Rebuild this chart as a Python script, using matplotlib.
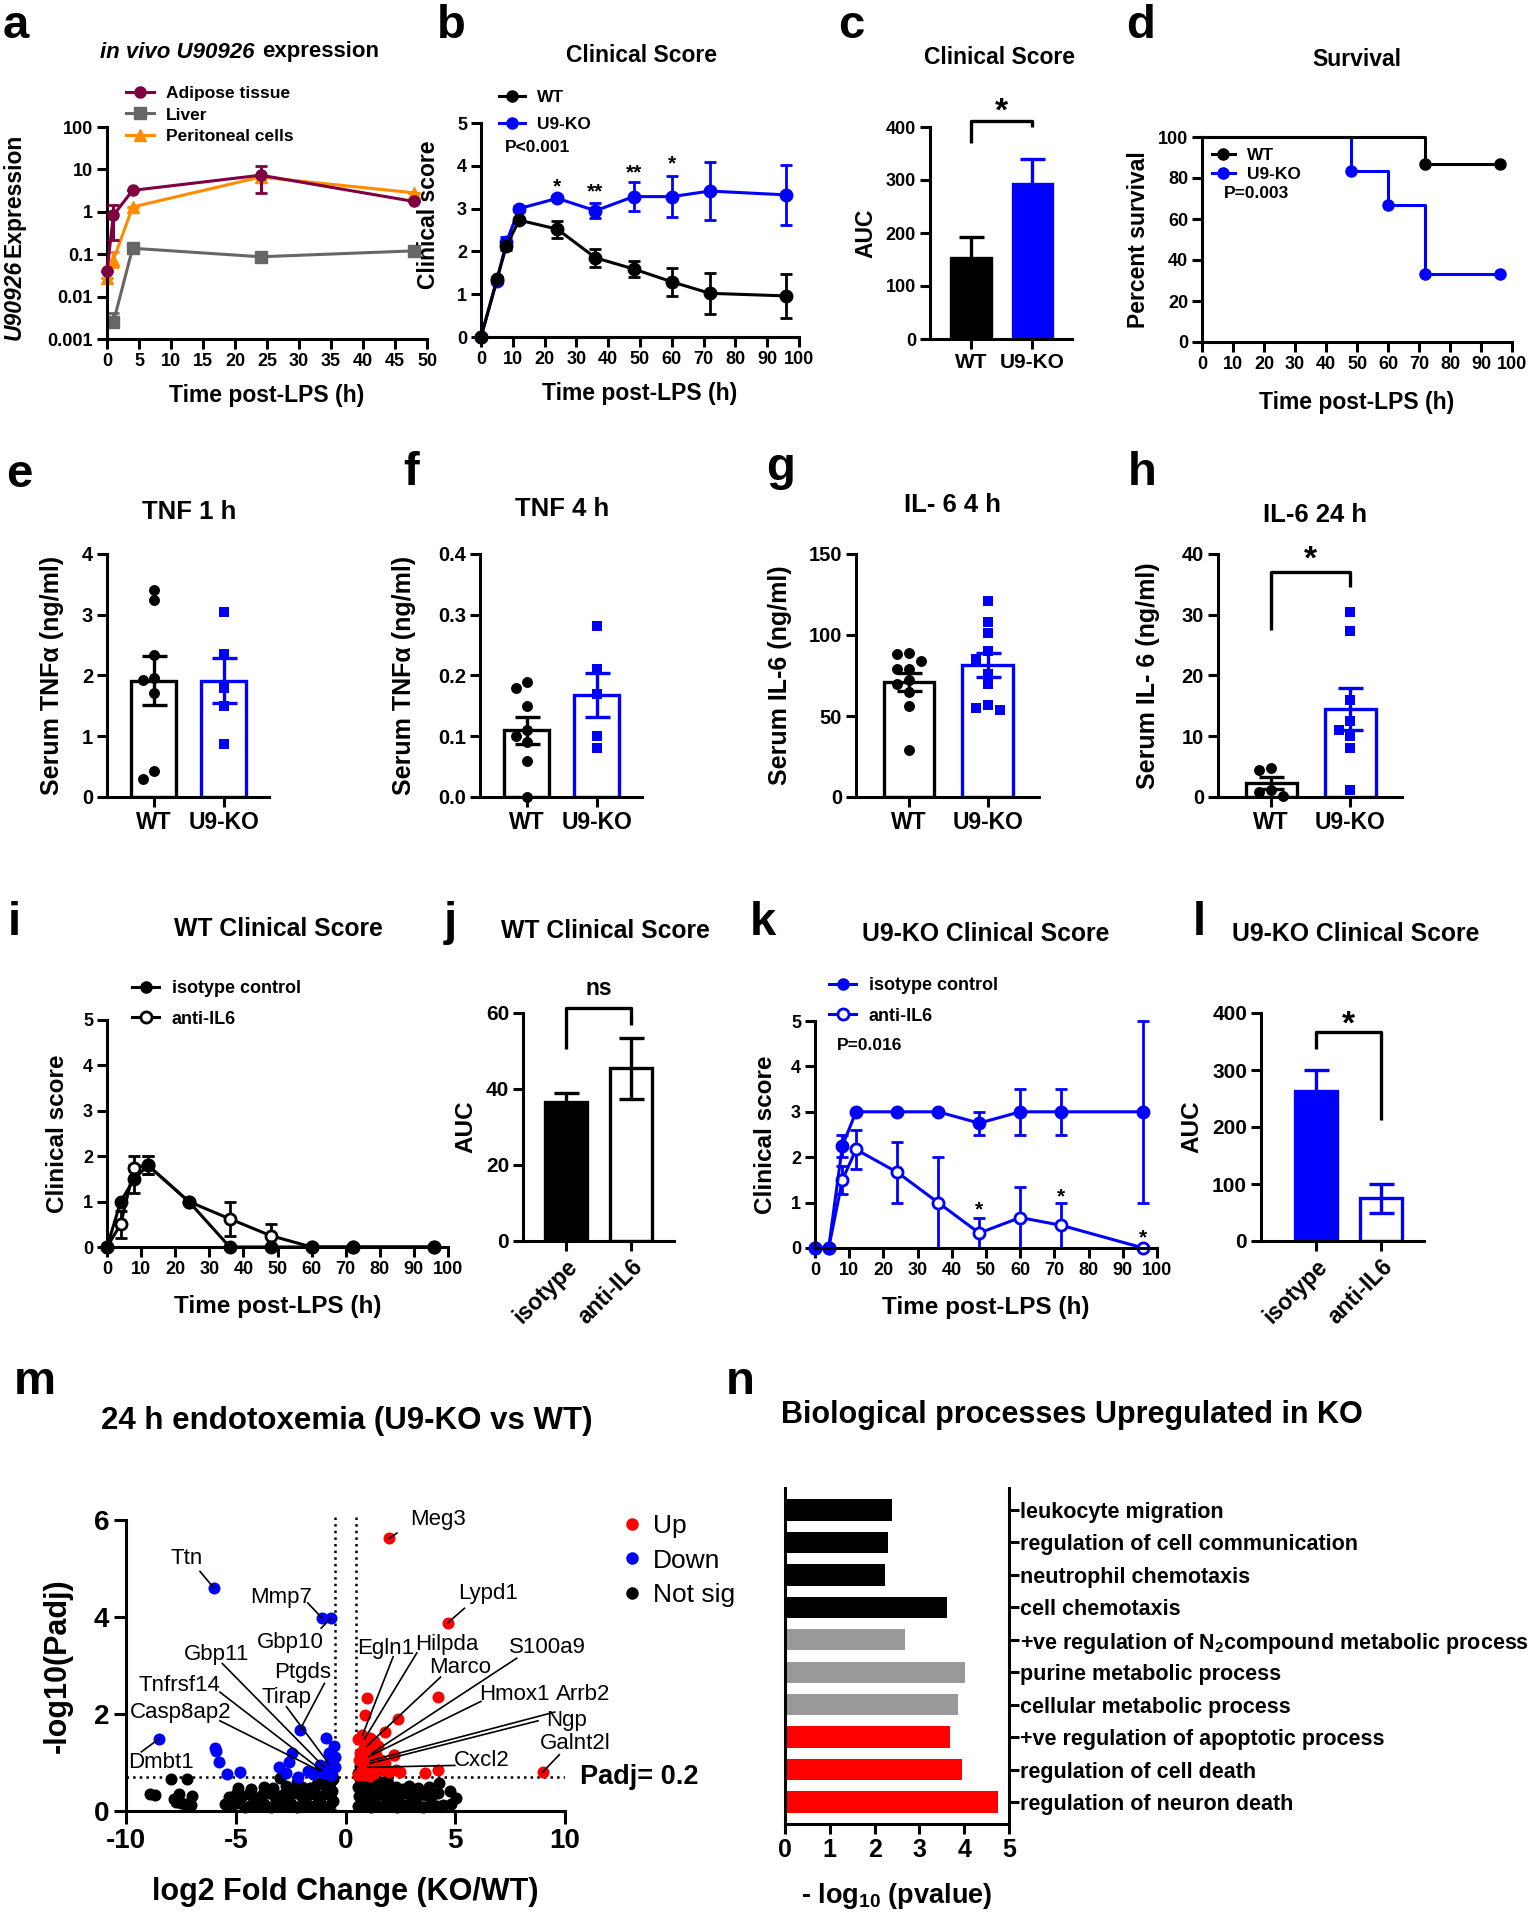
import numpy as np
import matplotlib
matplotlib.use("Agg")
from matplotlib import pyplot as plt
from matplotlib.lines import Line2D
from matplotlib.ticker import NullLocator

plt.rcParams['font.family'] = ['Liberation Sans', 'DejaVu Sans']
plt.rcParams['font.weight'] = 'bold'
plt.rcParams['axes.labelweight'] = 'bold'
plt.rcParams['axes.unicode_minus'] = False
plt.rcParams['mathtext.fontset'] = 'custom'
plt.rcParams['mathtext.rm'] = 'Liberation Sans:bold'
plt.rcParams['mathtext.bf'] = 'Liberation Sans:bold'

BLUE = '#0000ff'
MAROON = '#7f0040'
ORANGE = '#ff8c00'
GREY = '#666666'

# ---------------- data ----------------
# a: in vivo U90926 expression
a_time = [0, 1, 4, 24, 48]
a_adipose = [0.04, 0.83, 3.2, 7.3, 1.75]
a_adipose_lo = [0.04, 0.22, 3.2, 2.8, 1.75]
a_adipose_hi = [0.04, 1.43, 3.2, 12.0, 1.75]
a_liver_time = [1, 4, 24, 48]
a_liver = [0.0025, 0.138, 0.087, 0.12]
a_liver_lo = [0.0025, 0.138, 0.087, 0.12]
a_liver_hi = [0.004, 0.138, 0.087, 0.12]
a_perit = [0.028, 0.073, 1.3, 6.6, 2.8]
a_perit_lo = [0.028, 0.05, 1.3, 6.6, 2.8]
a_perit_hi = [0.028, 0.11, 1.3, 6.6, 2.8]

# b: clinical score
b_time = [0, 5, 8, 12, 24, 36, 48, 60, 72, 96]
b_wt = [0, 1.35, 2.13, 2.73, 2.52, 1.85, 1.59, 1.29, 1.02, 0.96]
b_wt_err = [0, 0.05, 0.1, 0.05, 0.2, 0.21, 0.18, 0.33, 0.48, 0.52]
b_ko = [0, 1.32, 2.22, 3.0, 3.24, 2.95, 3.28, 3.28, 3.41, 3.32]
b_ko_err = [0, 0.05, 0.12, 0.05, 0.05, 0.17, 0.33, 0.47, 0.68, 0.71]
b_star_time = [24, 36, 48, 60]
b_star_y = [3.5, 3.38, 3.84, 4.04]
b_star_text = ['*', '**', '**', '*']

# c: AUC
c_mean = [152, 292]
c_sem = [40, 47]

# d: survival
d_wt_t = [0, 72, 96]
d_wt_s = [100, 86.7, 86.7]
d_ko_t = [0, 48, 60, 72, 96]
d_ko_s = [100, 83.3, 66.7, 33.3, 33.3]

# e-h: serum cytokines (individual mice)
e_wt = [3.41, 3.25, 2.33, 1.96, 1.93, 1.71, 0.42, 0.29]
e_ko = [3.05, 2.35, 1.8, 1.5, 0.88]
f_wt = [0.18, 0.19, 0.15, 0.11, 0.10, 0.09, 0.06, 0.0]
f_ko = [0.281, 0.21, 0.17, 0.10, 0.08]
g_wt = [89, 88, 84, 79, 79, 72, 70, 65, 56, 29]
g_ko = [121, 108, 101, 90, 85, 76, 70, 57, 55, 54]
h_wt = [4.8, 4.5, 1.2, 0.8, 0.2]
h_ko = [30.4, 27.3, 16, 12.5, 11, 10, 8, 1.2]

# i: WT clinical score, isotype vs anti-IL6
i_time = [0, 4, 8, 12, 24, 36, 48, 60, 72, 96]
i_iso = [0, 1.0, 1.5, 1.8, 1.0, 0, 0, 0, 0, 0]
i_iso_err = [0, 0, 0.3, 0.2, 0, 0, 0, 0, 0, 0]
i_anti = [0, 0.5, 1.75, 1.8, 1.0, 0.62, 0.25, 0, 0, 0]
i_anti_err = [0, 0.3, 0.25, 0.2, 0, 0.38, 0.25, 0, 0, 0]

# j: WT AUC
j_mean = [36.5, 45.5]
j_sem = [2.5, 8]

# k: U9-KO clinical score
k_time = [0, 4, 8, 12, 24, 36, 48, 60, 72, 96]
k_iso = [0, 0, 2.25, 3, 3, 3, 2.75, 3, 3, 3]
k_iso_err = [0, 0, 0.25, 0, 0, 0, 0.25, 0.5, 0.5, 2.0]
k_anti = [0, 0, 1.5, 2.17, 1.67, 1.0, 0.33, 0.67, 0.5, 0]
k_anti_err = [0, 0, 0.3, 0.43, 0.67, 1.0, 0.33, 0.67, 0.5, 0]
k_star_time = [48, 72, 96]
k_star_y = [0.85, 1.13, 0.23]

# l: U9-KO AUC
l_mean = [263, 75]
l_sem = [37, 25]

# m: volcano, labelled genes
up_names = ['Meg3', 'Lypd1', 'Egln1', 'Hilpda', 'Marco', 'S100a9', 'Hmox1',
            'Arrb2', 'Ngp', 'Galnt2l', 'Cxcl2']
up_lfc = [1.98, 4.66, 0.77, 0.87, 0.98, 1.2, 1.05, 1.15, 1.1, 8.98, 1.0]
up_padj = [5.62, 3.88, 1.56, 1.49, 1.34, 1.19, 1.12, 1.04, 0.98, 0.80, 0.90]
down_names = ['Ttn', 'Mmp7', 'Gbp10', 'Dmbt1', 'Ptgds', 'Gbp11', 'Tnfrsf14',
              'Tirap', 'Casp8ap2']
down_lfc = [-6.0, -1.07, -0.64, -8.49, -2.08, -0.96, -1.07, -0.75, -1.18]
down_padj = [4.6, 3.98, 3.98, 1.49, 1.67, 0.90, 0.83, 0.97, 0.83]
# other significant genes
up_lfc_other = [0.98, 0.88, 4.23, 2.39, 1.8, 3.64, 4.23, 2.2, 0.55, 0.75, 0.9,
                1.1, 1.3, 1.5, 0.65, 0.85, 1.0, 1.2, 1.4, 0.6, 0.8, 1.0, 1.2,
                1.5, 1.7, 2.0, 2.3, 0.7, 0.9, 1.3, 1.6, 2.2, 1.8, 1.1, 0.55, 2.5]
up_padj_other = [2.34, 1.98, 2.35, 1.89, 1.62, 0.79, 0.85, 1.16, 1.48, 1.5,
                 1.45, 1.5, 1.45, 1.35, 1.2, 1.3, 1.1, 1.2, 1.15, 1.05, 0.95,
                 0.9, 0.95, 0.9, 0.85, 0.8, 0.85, 0.8, 0.75, 0.78, 1.05, 1.15,
                 1.0, 0.72, 0.75, 0.8]
down_lfc_other = [-5.94, -5.9, -5.78, -5.4, -4.81, -0.87, -0.53, -0.75, -0.49,
                  -2.43, -2.58, -3.02, -2.7, -2.15, -1.72, -1.5, -0.96, -0.64,
                  -0.49, -1.18, -0.6]
down_padj_other = [1.30, 1.23, 1.01, 0.77, 0.80, 1.5, 1.34, 1.19, 1.12, 1.19,
                   1.01, 0.9, 0.79, 0.71, 0.83, 0.77, 0.79, 0.75, 0.9, 0.94, 1.05]
ns_lfc = [-5.5, -5.2, -4.9, -4.6, -4.3, -4.0, -3.7, -3.4, -3.1, -2.8, -2.5, -2.2,
          -1.9, -1.6, -1.3, -1.0, -0.7, -0.55,
          -5.3, -5.0, -4.7, -4.4, -4.1, -3.8, -3.5, -3.2, -2.9, -2.6, -2.3, -2.0,
          -1.7, -1.4, -1.1, -0.8, -0.6,
          -4.9, -4.3, -3.7, -3.3, -2.7, -2.4, -2.0, -1.6, -1.3, -0.95, -0.7, -0.55,
          -3.0, -2.2, -1.0, -0.6, -0.75,
          -8.9, -8.7, -7.95, -7.8, -7.6, -7.2, -7.0, -7.3, -7.05, -7.5, -7.7,
          0.55, 0.85, 1.15, 1.45, 1.75, 2.05, 2.35, 2.65, 2.95, 3.25, 3.55, 3.85,
          4.15, 4.45, 4.8, 5.05,
          0.6, 0.9, 1.2, 1.5, 1.8, 2.1, 2.4, 2.7, 3.0, 3.3, 3.6, 3.9, 4.2, 4.75,
          0.55, 0.8, 1.1, 1.4, 1.7, 2.0, 2.3, 2.6, 2.9, 3.3, 3.8, 4.25,
          0.6, 0.75, 0.65, 0.9, 1.2, 1.5, 1.9, 0.55, 1.0]
ns_padj = [0.14, 0.10, 0.16, 0.09, 0.13, 0.11, 0.15, 0.08, 0.12, 0.10, 0.14, 0.09,
           0.13, 0.11, 0.15, 0.10, 0.12, 0.20,
           0.28, 0.35, 0.30, 0.36, 0.27, 0.33, 0.38, 0.29, 0.34, 0.31, 0.37, 0.28,
           0.33, 0.36, 0.30, 0.35, 0.42,
           0.48, 0.45, 0.50, 0.47, 0.52, 0.46, 0.50, 0.48, 0.55, 0.52, 0.58, 0.65,
           0.68, 0.60, 0.66, 0.75, 0.70,
           0.36, 0.33, 0.66, 0.25, 0.36, 0.67, 0.31, 0.15, 0.13, 0.16, 0.18,
           0.10, 0.14, 0.09, 0.13, 0.11, 0.15, 0.08, 0.12, 0.10, 0.14, 0.09, 0.13,
           0.11, 0.12, 0.15, 0.27,
           0.30, 0.35, 0.28, 0.36, 0.31, 0.34, 0.29, 0.37, 0.30, 0.35, 0.32, 0.28,
           0.38, 0.42,
           0.50, 0.55, 0.48, 0.52, 0.47, 0.53, 0.50, 0.46, 0.51, 0.48, 0.50, 0.58,
           0.70, 0.85, 0.92, 0.68, 0.65, 0.62, 0.64, 0.78, 0.75]

# n: GO terms
n_terms = ['leukocyte migration', 'regulation of cell communication',
           'neutrophil chemotaxis', 'cell chemotaxis',
           '+ve regulation of N$_2$compound metabolic process',
           'purine metabolic process', 'cellular metabolic process',
           '+ve regulation of apoptotic process', 'regulation of cell death',
           'regulation of neuron death']
n_values = [2.39, 2.30, 2.24, 3.61, 2.67, 4.02, 3.87, 3.69, 3.96, 4.76]
n_colors = ['black'] * 4 + ['#999999'] * 3 + ['#ff0000'] * 3

# ---------------- figure ----------------
W, H = 1540, 1920
fig = plt.figure(figsize=(W / 100, H / 100), dpi=100)


def add_ax(l, r, t, b, labelsize=13):
    ax = fig.add_axes([l / W, 1 - b / H, (r - l) / W, (b - t) / H])
    ax.spines['top'].set_visible(False)
    ax.spines['right'].set_visible(False)
    for s in ['left', 'bottom']:
        ax.spines[s].set_linewidth(2.2)
    ax.tick_params(width=2.2, length=7, labelsize=labelsize, pad=3)
    ax.set_facecolor('none')
    return ax


def ftext(x, y, s, **kw):
    return fig.text(x / W, 1 - y / H, s, **kw)


def fig_legend(ax, handles, labels, x, y, size, **kw):
    opts = dict(loc='upper left', bbox_to_anchor=(x / W, 1 - y / H),
                bbox_transform=fig.transFigure, frameon=False, fontsize=size,
                borderpad=0, borderaxespad=0, handletextpad=0.7)
    opts.update(kw)
    return ax.legend(handles, labels, **opts)


def swarm(vals, tol, step):
    vals = np.asarray(vals, dtype=float)
    offs = np.zeros(len(vals))
    placed = []
    cands = [0.0]
    for k in range(1, 6):
        cands += [-k * step, k * step]
    for i in np.argsort(vals)[::-1]:
        v = vals[i]
        for c in cands:
            if all(abs(v - pv) >= tol or abs(c - pc) >= step * 0.99
                   for pv, pc in placed):
                break
        offs[i] = c
        placed.append((v, c))
    return offs


def line_err(ax, x, y, err, color, open_marker=False, ms=8):
    ax.errorbar(x, y, yerr=err, color=color, lw=2.2, marker='o', ms=ms,
                mfc='white' if open_marker else color, mec=color, mew=2,
                capsize=4, capthick=2, elinewidth=2, clip_on=False)


def dot_bar(ax, groups, colors, markers, ymax):
    for i, (vals, c, m) in enumerate(zip(groups, colors, markers)):
        v = np.asarray(vals, dtype=float)
        mean = v.mean()
        sem = v.std(ddof=1) / np.sqrt(len(v))
        ax.bar(i, mean, width=0.64, facecolor='white', edgecolor=c,
               linewidth=2.4, zorder=1)
        offs = swarm(v, 0.04 * ymax, 0.15)
        ax.scatter(i + offs, v, marker=m, s=62 if m == 'o' else 52, color=c,
                   zorder=3, clip_on=False, linewidths=0)
        ax.errorbar(i, mean, yerr=sem, color=c, capsize=9, capthick=2.4,
                    elinewidth=2.4, zorder=4)
    ax.set_xlim(-0.67, 1.65)
    ax.set_ylim(0, ymax)
    ax.set_xticks([0, 1])
    ax.set_xticklabels(['WT', 'U9-KO'], fontsize=16.5)


def auc_bar(ax, means, sems, faces, edges):
    for i, (m, s, f, e) in enumerate(zip(means, sems, faces, edges)):
        ax.bar(i, m, width=0.64, facecolor=f, edgecolor=e, linewidth=2.4,
               zorder=1)
        ax.errorbar(i, m, yerr=s, color=e, capsize=9, capthick=2.4,
                    elinewidth=2.4, zorder=2)
    ax.set_xticks([0, 1])


def bracket(ax, ytop, y0, y1, label, ylab, size=24):
    ax.plot([0, 0, 1, 1], [y0, ytop, ytop, y1], color='k', lw=2.4,
            clip_on=False, solid_capstyle='butt')
    ax.text(0.5, ylab, label, ha='center', va='center', fontsize=size)


# panel letters
for letter, x, y in [('a', 3, 38), ('b', 437, 38), ('c', 838, 38),
                     ('d', 1126, 38), ('e', 6, 487), ('f', 403, 485),
                     ('g', 766, 480), ('h', 1128, 485), ('i', 8, 935),
                     ('j', 444, 935), ('k', 750, 935), ('l', 1193, 935),
                     ('m', 14, 1394), ('n', 726, 1394)]:
    ftext(x, y, letter, fontsize=34, va='baseline', ha='left')

# ---- a ----
ax = add_ax(107, 427, 127, 339)
ax.set_yscale('log')
ax.errorbar(a_time, a_adipose,
            yerr=[np.subtract(a_adipose, a_adipose_lo),
                  np.subtract(a_adipose_hi, a_adipose)],
            color=MAROON, marker='o', ms=8, lw=2.2, capsize=4, capthick=2,
            clip_on=False, zorder=3)
ax.errorbar(a_liver_time, a_liver,
            yerr=[np.subtract(a_liver, a_liver_lo),
                  np.subtract(a_liver_hi, a_liver)],
            color=GREY, marker='s', ms=8, lw=2.2, capsize=4, capthick=2,
            clip_on=False, zorder=2)
ax.errorbar(a_time, a_perit,
            yerr=[np.subtract(a_perit, a_perit_lo),
                  np.subtract(a_perit_hi, a_perit)],
            color=ORANGE, marker='^', ms=8, lw=2.2, capsize=4, capthick=2,
            clip_on=False, zorder=2)
ax.set_xlim(0, 50)
ax.set_ylim(0.001, 100)
ax.set_xticks(range(0, 51, 5))
ax.set_yticks([0.001, 0.01, 0.1, 1, 10, 100])
ax.set_yticklabels(['0.001', '0.01', '0.1', '1', '10', '100'])
ax.yaxis.set_minor_locator(NullLocator())
ax.set_xlabel('Time post-LPS (h)', fontsize=16.5, labelpad=10)
ftext(255, 52, 'in vivo U90926', fontsize=16, style='italic', ha='right',
      va='center')
ftext(262, 52, 'expression', fontsize=16, ha='left', va='center')
ftext(14, 340, 'U90926', fontsize=16.5, style='italic', rotation=90,
      ha='center', va='bottom')
ftext(14, 257, 'Expression', fontsize=16.5, rotation=90, ha='center',
      va='bottom')
hl = [Line2D([], [], color=MAROON, marker='o', ms=8, lw=2.2),
      Line2D([], [], color=GREY, marker='s', ms=8, lw=2.2),
      Line2D([], [], color=ORANGE, marker='^', ms=8, lw=2.2)]
fig_legend(ax, hl, ['Adipose tissue', 'Liver', 'Peritoneal cells'], 126, 86,
           12.5, handlelength=1.6, labelspacing=0.36)

# ---- b ----
ax = add_ax(481, 799, 123, 337)
line_err(ax, b_time, b_ko, b_ko_err, BLUE)
line_err(ax, b_time, b_wt, b_wt_err, 'black')
for t, y, s in zip(b_star_time, b_star_y, b_star_text):
    ax.text(t, y, s, ha='center', va='center', fontsize=15)
ax.set_xlim(0, 100)
ax.set_ylim(0, 5)
ax.set_xticks(range(0, 101, 10))
ax.set_yticks(range(0, 6))
ax.set_xlabel('Time post-LPS (h)', fontsize=16.5, labelpad=10)
ax.set_ylabel('Clinical score', fontsize=16.5)
ax.yaxis.set_label_coords(-0.13, 0.57)
ftext(641, 55, 'Clinical Score', fontsize=16.5, ha='center', va='center')
hl = [Line2D([], [], color='k', marker='o', ms=8, lw=2.2),
      Line2D([], [], color=BLUE, marker='o', ms=8, lw=2.2)]
fig_legend(ax, hl, ['WT', 'U9-KO'], 499, 90, 12.5, handlelength=1.5,
           labelspacing=0.66)
ftext(505, 148, 'P<0.001', fontsize=12.5, ha='left', va='center')

# ---- c ----
ax = add_ax(930, 1072, 127, 339)
auc_bar(ax, c_mean, c_sem, ['black', BLUE], ['black', BLUE])
ax.set_xlim(-0.67, 1.65)
ax.set_ylim(0, 400)
ax.set_yticks(range(0, 401, 100))
ax.set_xticklabels(['WT', 'U9-KO'], fontsize=15)
ax.set_ylabel('AUC', fontsize=16.5, labelpad=6)
bracket(ax, 412, 370, 400, '*', 428)
ftext(1000, 58, 'Clinical Score', fontsize=16.5, ha='center', va='center')

# ---- d ----
ax = add_ax(1202, 1512, 137, 342)
ax.plot(d_ko_t, d_ko_s, drawstyle='steps-post', color=BLUE, lw=2.2,
        clip_on=False)
ax.plot(d_ko_t[1:], d_ko_s[1:], 'o', color=BLUE, ms=8, clip_on=False)
ax.plot(d_wt_t, d_wt_s, drawstyle='steps-post', color='black', lw=2.2,
        clip_on=False)
ax.plot(d_wt_t[1:], d_wt_s[1:], 'o', color='black', ms=8, clip_on=False)
ax.set_xlim(0, 100)
ax.set_ylim(0, 100)
ax.set_xticks(range(0, 101, 10))
ax.set_yticks(range(0, 101, 20))
ax.set_xlabel('Time post-LPS (h)', fontsize=16.5, labelpad=13)
ax.set_ylabel('Percent survival', fontsize=16.5, labelpad=6)
ftext(1357, 59, 'Survival', fontsize=16.5, ha='center', va='center')
hl = [Line2D([], [], color='k', marker='o', ms=8, lw=2.2),
      Line2D([], [], color=BLUE, marker='o', ms=8, lw=2.2)]
fig_legend(ax, hl, ['WT', 'U9-KO'], 1212, 148, 12.5, handlelength=1.3,
           labelspacing=0.2)
ftext(1224, 193, 'P=0.003', fontsize=12.5, ha='left', va='center')

# ---- e-h ----
panels = [
    (107, 269, e_wt, e_ko, 4, [0, 1, 2, 3, 4], None,
     'Serum TNF\u03b1 (ng/ml)', 13, 'TNF 1 h', 189, 512),
    (480, 642, f_wt, f_ko, 0.4, [0.0, 0.1, 0.2, 0.3, 0.4], '%.1f',
     'Serum TNF\u03b1 (ng/ml)', 16, 'TNF 4 h', 562, 509),
    (856, 1039, g_wt, g_ko, 150, [0, 50, 100, 150], None,
     'Serum IL-6 (ng/ml)', 12, 'IL- 6 4 h', 953, 505),
    (1218, 1402, h_wt, h_ko, 40, [0, 10, 20, 30, 40], None,
     'Serum IL- 6 (ng/ml)', 16, 'IL-6 24 h', 1315, 515),
]
for l, r, wt, ko, ymax, yt, fmt, ylab, lpad, title, tx, ty in panels:
    ax = add_ax(l, r, 554, 797, labelsize=14.5)
    dot_bar(ax, [wt, ko], ['black', BLUE], ['o', 's'], ymax)
    ax.set_yticks(yt)
    if fmt:
        ax.set_yticklabels([fmt % v for v in yt])
    ax.set_ylabel(ylab, fontsize=18, labelpad=lpad)
    ftext(tx, ty, title, fontsize=18.5, ha='center', va='center')
    if title == 'IL-6 24 h':
        bracket(ax, 37, 27.5, 34.5, '*', 39.0)

# ---- i ----
ax = add_ax(107, 448, 1020, 1247)
line_err(ax, i_time, i_anti, i_anti_err, 'black', open_marker=True)
line_err(ax, i_time, i_iso, i_iso_err, 'black')
ax.set_xlim(0, 100)
ax.set_ylim(0, 5)
ax.set_xticks(range(0, 101, 10))
ax.set_yticks(range(0, 6))
ax.set_xlabel('Time post-LPS (h)', fontsize=17.5, labelpad=12)
ax.set_ylabel('Clinical score', fontsize=17.5, labelpad=10)
ftext(278, 929, 'WT Clinical Score', fontsize=17.8, ha='center', va='center')
hl = [Line2D([], [], color='k', marker='o', ms=8, lw=2.2),
      Line2D([], [], color='k', marker='o', ms=8, lw=2.2, mfc='white', mew=2)]
fig_legend(ax, hl, ['isotype control', 'anti-IL6'], 132, 980, 13,
           handlelength=1.5, labelspacing=0.75)

# ---- j ----
ax = add_ax(523, 674, 1013, 1241, labelsize=15)
auc_bar(ax, j_mean, j_sem, ['black', 'white'], ['black', 'black'])
ax.set_xlim(-0.66, 1.66)
ax.set_ylim(0, 60)
ax.set_yticks([0, 20, 40, 60])
ax.set_xticklabels(['isotype', 'anti-IL6'], fontsize=16.5, rotation=45,
                   ha='right', rotation_mode='anchor')
ax.set_ylabel('AUC', fontsize=17.5, labelpad=6)
bracket(ax, 61.3, 50.5, 56.8, 'ns', 66.5, size=16.5)
ftext(605, 931, 'WT Clinical Score', fontsize=17.8, ha='center', va='center')

# ---- k ----
ax = add_ax(815, 1157, 1021, 1248)
line_err(ax, k_time, k_anti, k_anti_err, BLUE, open_marker=True)
line_err(ax, k_time, k_iso, k_iso_err, BLUE)
for t, y in zip(k_star_time, k_star_y):
    ax.text(t, y, '*', ha='center', va='center', fontsize=15)
ax.set_xlim(0, 100)
ax.set_ylim(0, 5)
ax.set_xticks(range(0, 101, 10))
ax.set_yticks(range(0, 6))
ax.set_xlabel('Time post-LPS (h)', fontsize=17.5, labelpad=12)
ax.set_ylabel('Clinical score', fontsize=17.5, labelpad=10)
ftext(986, 934, 'U9-KO Clinical Score', fontsize=17.8, ha='center',
      va='center')
hl = [Line2D([], [], color=BLUE, marker='o', ms=8, lw=2.2),
      Line2D([], [], color=BLUE, marker='o', ms=8, lw=2.2, mfc='white',
             mew=2)]
fig_legend(ax, hl, ['isotype control', 'anti-IL6'], 829, 977, 13,
           handlelength=1.5, labelspacing=0.75)
ftext(837, 1045, 'P=0.016', fontsize=12.5, ha='left', va='center')

# ---- l ----
ax = add_ax(1261, 1424, 1013, 1241, labelsize=15)
auc_bar(ax, l_mean, l_sem, [BLUE, 'white'], [BLUE, BLUE])
ax.set_xlim(-0.85, 1.66)
ax.set_ylim(0, 400)
ax.set_yticks(range(0, 401, 100))
ax.set_xticklabels(['isotype', 'anti-IL6'], fontsize=16.5, rotation=45,
                   ha='right', rotation_mode='anchor')
ax.set_ylabel('AUC', fontsize=17.5, labelpad=6)
bracket(ax, 366, 337, 212, '*', 379)
ftext(1356, 934, 'U9-KO Clinical Score', fontsize=17.8, ha='center',
      va='center')

# ---- m ----
ax = add_ax(126, 565, 1520, 1811, labelsize=20)
ax.plot([-0.5, -0.5], [0, 6.06], ls=':', color='k', lw=1.8, clip_on=False)
ax.plot([0.5, 0.5], [0, 6.06], ls=':', color='k', lw=1.8, clip_on=False)
ax.plot([-10, 10], [0.699, 0.699], ls=':', color='k', lw=1.8)
ax.scatter(ns_lfc, ns_padj, s=75, color='black', linewidths=0, clip_on=False,
           zorder=2)
ax.scatter(down_lfc_other + down_lfc, down_padj_other + down_padj, s=75,
           color=BLUE, linewidths=0, zorder=3)
ax.scatter(up_lfc_other + up_lfc, up_padj_other + up_padj, s=75,
           color='#ff0000', linewidths=0, zorder=3)
label_layout = {
    'Meg3': (4.23, 6.02, 2.34, 5.73), 'Ttn': (-7.23, 5.2, -6.63, 4.94),
    'Mmp7': (-2.95, 4.41, -1.72, 4.29), 'Gbp10': (-2.52, 3.48, -1.11, 3.77),
    'Lypd1': (6.5, 4.49, 5.42, 4.18), 'Gbp11': (-5.89, 3.22, -5.61, 3.04),
    'Ptgds': (-1.94, 2.85, -0.96, 2.63),
    'Tnfrsf14': (-7.56, 2.59, -5.72, 2.45),
    'Tirap': (-2.69, 2.35, -2.69, 2.15),
    'Casp8ap2': (-7.49, 2.04, -5.72, 1.86),
    'Dmbt1': (-8.42, 1.01, -9.3, 1.22), 'Egln1': (1.85, 3.35, 2.17, 3.18),
    'Hilpda': (4.62, 3.44, 3.25, 3.26), 'Marco': (5.2, 2.95, 4.33, 2.76),
    'S100a9': (9.2, 3.38, 7.8, 3.15), 'Hmox1': (7.69, 2.41, 6.17, 2.26),
    'Arrb2': (10.82, 2.41, 9.53, 2.04), 'Ngp': (10.06, 1.87, 8.77, 1.86),
    'Galnt2l': (10.46, 1.4, 9.74, 1.16), 'Cxcl2': (6.22, 1.05, 4.98, 0.94),
}
for names, xs, ys in [(up_names, up_lfc, up_padj),
                      (down_names, down_lfc, down_padj)]:
    for name, px, py in zip(names, xs, ys):
        tx, ty, lx, ly = label_layout[name]
        ax.plot([lx, px], [ly, py], color='k', lw=1.2, zorder=4,
                clip_on=False)
        ax.text(tx, ty, name, ha='center', va='center', fontsize=16,
                fontweight='normal', zorder=5)
ax.set_xlim(-10, 10)
ax.set_ylim(0, 6)
ax.set_xticks([-10, -5, 0, 5, 10])
ax.set_yticks([0, 2, 4, 6])
ax.tick_params(length=9)
ax.set_xlabel('log2 Fold Change (KO/WT)', fontsize=22, labelpad=17)
ax.set_ylabel('-log10(Padj)', fontsize=22, labelpad=15)
ftext(347, 1421, '24 h endotoxemia (U9-KO vs WT)', fontsize=22.5,
      ha='center', va='center')
ax.text(1.035, 0.699 / 6, 'Padj= 0.2', transform=ax.transAxes, fontsize=19.5,
        ha='left', va='center')
hl = [Line2D([], [], ls='none', marker='o', ms=9, color=c, mew=0)
      for c in ['#ff0000', BLUE, 'black']]
fig_legend(ax, hl, ['Up', 'Down', 'Not sig'], 619, 1514, 19,
           handlelength=1.0, handletextpad=0.3, labelspacing=0.4,
           prop={'size': 19, 'weight': 'normal'})

# ---- n ----
ax = add_ax(785, 1009, 1488, 1824, labelsize=18)
ax.barh(range(len(n_values)), n_values, height=0.66, color=n_colors)
ax.set_ylim(len(n_values) - 0.32, -0.68)
ax.set_xlim(0, 5)
ax.spines['right'].set_visible(True)
ax.spines['right'].set_linewidth(2.2)
ax.yaxis.tick_right()
ax.set_yticks(range(len(n_values)))
ax.set_yticklabels(n_terms, fontsize=15.5)
ax.tick_params(axis='y', length=7, pad=1)
ax.set_xticks(range(6))
ax.set_xlabel('- log$_{10}$ (pvalue)', fontsize=19.5, labelpad=14)
ftext(781, 1415, 'Biological processes Upregulated in KO', fontsize=22,
      ha='left', va='center')

fig.savefig('out.png', dpi=100)
